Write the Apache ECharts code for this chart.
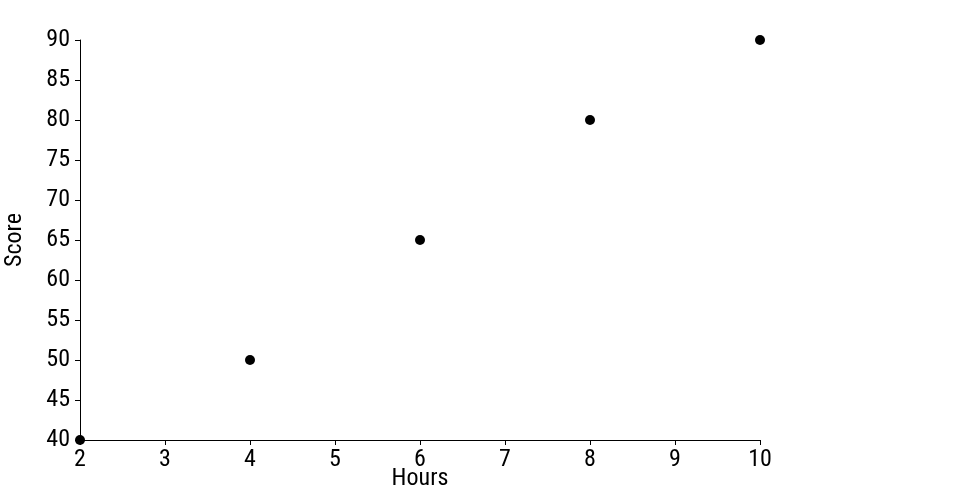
<!DOCTYPE html>
<html><head><meta charset="utf-8">
<script src="https://cdn.jsdelivr.net/npm/echarts@6/dist/echarts.min.js"></script>
<style>html,body{margin:0;padding:0;background:#fff}#c{width:960px;height:500px}</style>
</head><body><div id="c"></div>
<script>
const hours = [2, 4, 6, 8, 10];
const scores = [40, 50, 65, 80, 90];
const xTicks = { min: 2, max: 10, interval: 1 };
const yTicks = { min: 40, max: 90, interval: 5 };
const FONT = 'Roboto';
const STRETCH = 'condensed';
const SIZE = 24;
const chart = echarts.init(document.getElementById('c'));
const txt = { fontFamily: FONT, fontWeight: STRETCH, fontSize: SIZE, color: '#000' };
chart.setOption({
  animation: false,
  grid: { left: 80, right: 200, top: 40, bottom: 60, containLabel: false, outerBoundsMode: 'none' },
  xAxis: {
    type: 'value', min: xTicks.min, max: xTicks.max, interval: xTicks.interval,
    name: 'Hours', nameLocation: 'middle', nameGap: 27, nameMoveOverlap: false,
    nameTextStyle: txt,
    axisLine: { show: true, lineStyle: { color: '#000', width: 1 } },
    axisTick: { show: true, length: 5, lineStyle: { color: '#000' } },
    axisLabel: Object.assign({ margin: 8 }, txt),
    splitLine: { show: false }
  },
  yAxis: {
    type: 'value', min: yTicks.min, max: yTicks.max, interval: yTicks.interval,
    name: 'Score', nameLocation: 'middle', nameGap: 53, nameRotate: 90, nameMoveOverlap: false,
    nameTextStyle: txt,
    axisLine: { show: true, lineStyle: { color: '#000', width: 1 } },
    axisTick: { show: true, length: 5, lineStyle: { color: '#000' } },
    axisLabel: Object.assign({ margin: 10 }, txt),
    splitLine: { show: false }
  },
  series: [{
    type: 'scatter',
    data: hours.map((h, i) => [h, scores[i]]),
    symbolSize: 10,
    itemStyle: { color: '#000', opacity: 1 }
  }]
});
</script></body></html>
